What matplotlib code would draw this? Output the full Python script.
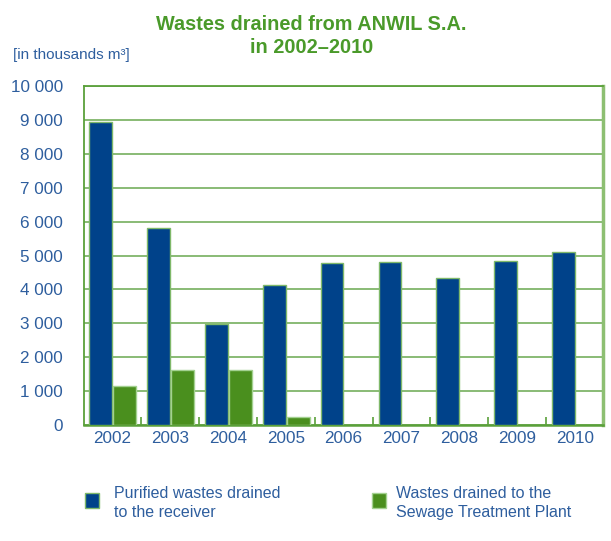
import matplotlib.pyplot as plt
from matplotlib.patches import Rectangle
from matplotlib.ticker import FuncFormatter
import numpy as np

# - Data (thousands m3)
years = ['2002', '2003', '2004', '2005', '2006', '2007', '2008', '2009', '2010']
purified_receiver = [8950, 5810, 2970, 4130, 4770, 4820, 4350, 4850, 5090]
sewage_plant = [1160, 1630, 1630, 230, 0, 0, 0, 0, 0]
series_labels = ['Purified wastes drained\nto the receiver',
                 'Wastes drained to the\nSewage Treatment Plant']

# - Colors
blue = '#00428a'
green = '#4a8f1e'
line_green = '#5aa03a'
text_blue = '#2e5e9e'
title_green = '#4a9a2a'

plt.rcParams['font.family'] = ['Liberation Sans', 'DejaVu Sans']

fig = plt.figure(figsize=(6.11, 5.41), dpi=100)
ax = fig.add_axes([84 / 611, 1 - 425 / 541, (603 - 84) / 611, (425 - 86) / 541])

x = np.arange(len(years))
width = 0.39
ax.bar(x, purified_receiver, width=width, color=blue,
       edgecolor='#7fb86a', linewidth=1, zorder=3)
mask = np.array(sewage_plant) > 0
ax.bar(x[mask] + 0.415, np.array(sewage_plant)[mask], width=width, color=green,
       edgecolor='#a3d190', linewidth=1, zorder=3)

# -- Axes limits
ax.set_xlim(-0.29, 8.685)
ax.set_ylim(0, 10000)

# -- Ticks
ax.set_xticks(x + 0.2)
ax.set_xticklabels(years)
ax.set_xticks(x[:-1] + 0.7, minor=True)
ax.set_yticks(range(0, 10001, 1000))
ax.yaxis.set_major_formatter(FuncFormatter(lambda v, pos: f'{int(v):,}'.replace(',', ' ')))
ax.tick_params(axis='x', which='major', length=0, pad=4, labelsize=12.3, labelcolor=text_blue)
ax.tick_params(axis='x', which='minor', direction='in', length=6, width=1.2, color=line_green)
ax.tick_params(axis='y', length=0, pad=15, labelsize=12.3, labelcolor=text_blue)

# -- Grid
ax.grid(axis='y', color='#6aa84f', lw=1.1, zorder=1)
ax.set_axisbelow(True)

# -- Borders
for border in ('top', 'left', 'bottom'):
    ax.spines[border].set_edgecolor(line_green)
    ax.spines[border].set_linewidth(1.3)
ax.spines['right'].set_edgecolor('#8dbf72')
ax.spines['right'].set_linewidth(2.5)
ax.spines['bottom'].set_linewidth(1.8)

# - Titles
fig.text(311.5 / 611, 1 - 30 / 541, 'Wastes drained from ANWIL S.A.',
         ha='center', va='baseline', fontsize=14.3, fontweight='bold', color=title_green)
fig.text(311.5 / 611, 1 - 53 / 541, 'in 2002\u20132010',
         ha='center', va='baseline', fontsize=14.3, fontweight='bold', color=title_green)
fig.text(12.5 / 611, 1 - 58.5 / 541, '[in thousands m\u00b3]',
         ha='left', va='baseline', fontsize=11, color=text_blue)

# - Legend (drawn by hand to keep square on first line)
for sq_x, txt_x, col, edge, label in ((85, 114, blue, '#7fb86a', series_labels[0]),
                                      (372, 396, green, '#a3d190', series_labels[1])):
    fig.patches.append(Rectangle((sq_x / 611, 1 - 508 / 541), 14 / 611, 15 / 541,
                                 transform=fig.transFigure, facecolor=col,
                                 edgecolor=edge, linewidth=1))
    fig.text(txt_x / 611, 1 - 486 / 541, label, ha='left', va='top',
             fontsize=11.5, color=text_blue, linespacing=1.3)

plt.savefig('out.png', dpi=100, format='png')
